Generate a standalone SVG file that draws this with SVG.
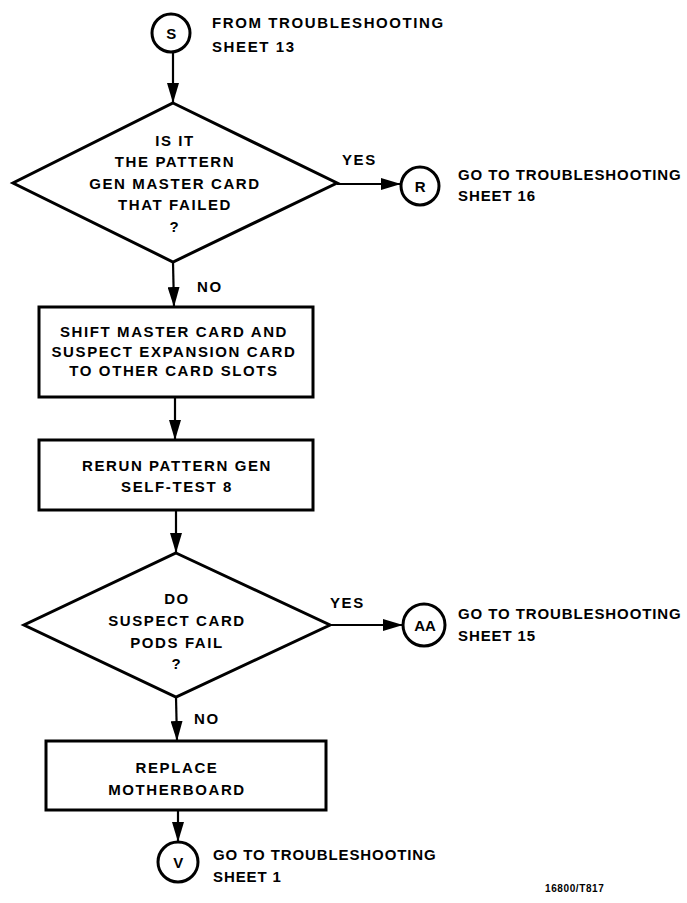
<svg xmlns="http://www.w3.org/2000/svg" width="687" height="903" viewBox="0 0 687 903">
<style>
text{font-family:"Liberation Sans",Arial,sans-serif;font-weight:bold;font-size:15px;letter-spacing:1.6px;fill:#000}
.c{text-anchor:middle}
.r{letter-spacing:0.9px}
.shape{fill:#fff;stroke:#000;stroke-width:3;stroke-linejoin:miter}
.conn{fill:none;stroke:#000;stroke-width:2.2}
.small{font-size:10px;letter-spacing:0.6px}
</style>
<defs>
<marker id="arr" viewBox="0 0 20 12" refX="20" refY="6" markerWidth="20" markerHeight="12" markerUnits="userSpaceOnUse" orient="auto">
<path d="M0,0 L20,6 L0,12 z" fill="#000"/>
</marker>
</defs>
<rect width="687" height="903" fill="#fff"/>
<g id="connectors">
<line class="conn" x1="173" y1="52" x2="173" y2="103" marker-end="url(#arr)"/>
<line class="conn" x1="337" y1="184" x2="401" y2="184" marker-end="url(#arr)"/>
<line class="conn" x1="173" y1="262" x2="174" y2="307" marker-end="url(#arr)"/>
<line class="conn" x1="175" y1="397" x2="175" y2="440" marker-end="url(#arr)"/>
<line class="conn" x1="176" y1="510" x2="176" y2="553" marker-end="url(#arr)"/>
<line class="conn" x1="330" y1="625" x2="403" y2="625" marker-end="url(#arr)"/>
<line class="conn" x1="176" y1="697" x2="177" y2="741" marker-end="url(#arr)"/>
<line class="conn" x1="178" y1="810" x2="178" y2="842" marker-end="url(#arr)"/>
<text x="342" y="165">YES</text>
<text x="197" y="292">NO</text>
<text x="330" y="608">YES</text>
<text x="194" y="724">NO</text>
</g>
<g id="nodeS">
<circle class="shape" cx="171" cy="33" r="19"/>
<text class="c" x="172" y="39">S</text>
<text x="212" y="28">FROM TROUBLESHOOTING</text>
<text x="212" y="52">SHEET 13</text>
</g>
<g id="decision1">
<polygon class="shape" points="173,103 337,183 173,262 13,183"/>
<text class="c" x="175" y="146">IS IT</text>
<text class="c" x="175" y="167">THE PATTERN</text>
<text class="c" x="175" y="189">GEN MASTER CARD</text>
<text class="c" x="175" y="210">THAT FAILED</text>
<text class="c" x="175" y="232">?</text>
</g>
<g id="nodeR">
<circle class="shape" cx="420" cy="186" r="19"/>
<text class="c" x="421" y="192">R</text>
<text class="r" x="458" y="180">GO TO TROUBLESHOOTING</text>
<text class="r" x="458" y="201">SHEET 16</text>
</g>
<g id="box1">
<rect class="shape" x="39" y="307" width="274" height="90"/>
<text class="c" x="174" y="337">SHIFT MASTER CARD AND</text>
<text class="c" x="174" y="357">SUSPECT EXPANSION CARD</text>
<text class="c" x="174" y="376">TO OTHER CARD SLOTS</text>
</g>
<g id="box2">
<rect class="shape" x="39" y="440" width="274" height="70"/>
<text class="c" x="177" y="471">RERUN PATTERN GEN</text>
<text class="c" x="177" y="492">SELF-TEST 8</text>
</g>
<g id="decision2">
<polygon class="shape" points="176,553 330,625 176,697 24,625"/>
<text class="c" x="177" y="604">DO</text>
<text class="c" x="177" y="626">SUSPECT CARD</text>
<text class="c" x="177" y="648">PODS FAIL</text>
<text class="c" x="177" y="669">?</text>
</g>
<g id="nodeAA">
<circle class="shape" cx="424" cy="625" r="21"/>
<text class="c" x="425" y="631" style="letter-spacing:0">AA</text>
<text class="r" x="458" y="619">GO TO TROUBLESHOOTING</text>
<text class="r" x="458" y="641">SHEET 15</text>
</g>
<g id="box3">
<rect class="shape" x="46" y="741" width="280" height="69"/>
<text class="c" x="177" y="773">REPLACE</text>
<text class="c" x="177" y="795">MOTHERBOARD</text>
</g>
<g id="nodeV">
<circle class="shape" cx="178" cy="862" r="20"/>
<text class="c" x="179" y="868">V</text>
<text class="r" x="213" y="860">GO TO TROUBLESHOOTING</text>
<text class="r" x="213" y="882">SHEET 1</text>
</g>
<text class="small" x="545" y="892">16800/T817</text>
</svg>
